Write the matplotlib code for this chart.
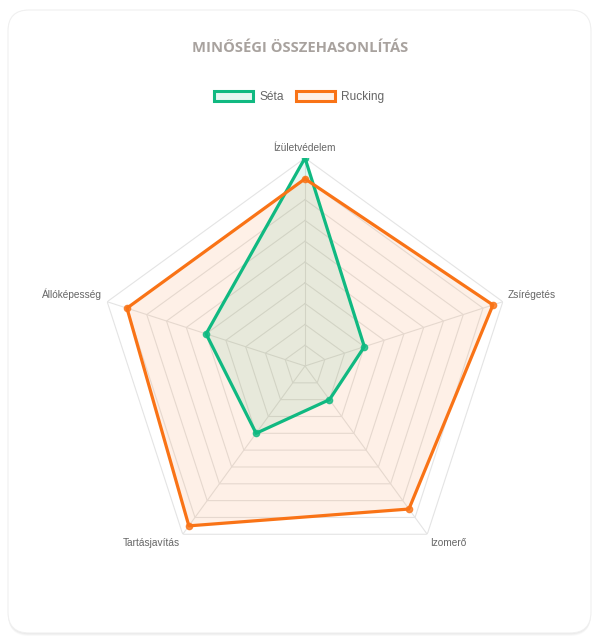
import numpy as np
import matplotlib
matplotlib.use('Agg')
import matplotlib.pyplot as plt
from matplotlib.patches import FancyBboxPatch, Patch

# data
categories = ['Ízületvédelem', 'Zsírégetés', 'Izomerő', 'Tartásjavítás', 'Állóképesség']
seta = [10, 3, 2, 4, 5]
rucking = [9, 9.5, 8.5, 9.5, 9]
series_names = ['Séta', 'Rucking']
max_val = 10

green = '#10b981'
orange = '#f97316'
grid_col = '#e4e4e4'
text_col = '#666666'

fig = plt.figure(figsize=(6.0, 6.43), dpi=100)
W, H = 600, 643

# card with soft shadow
for i, a in enumerate([0.025, 0.03, 0.035]):
    off = 3 - i
    fig.patches.append(FancyBboxPatch((8 / W, (10 - off) / H), 583 / W, (623 + off) / H,
                                      boxstyle='round,pad=0,rounding_size=0.035',
                                      transform=fig.transFigure, facecolor='black',
                                      alpha=a, edgecolor='none', mutation_aspect=W / H,
                                      zorder=-10))
fig.patches.append(FancyBboxPatch((8 / W, 10 / H), 583 / W, 623 / H,
                                  boxstyle='round,pad=0,rounding_size=0.035',
                                  transform=fig.transFigure, facecolor='white',
                                  edgecolor='#f0f0f0', linewidth=0.8, mutation_aspect=W / H,
                                  zorder=-9))

# radar axes: centre (305, 366), radius 208 px
cx, cy, R = 305, 366, 208
ax = fig.add_axes([(cx - R) / W, (H - cy - R) / H, 2 * R / W, 2 * R / H], projection='polar')
ax.set_theta_zero_location('N')
ax.set_theta_direction(-1)
ax.set_ylim(0, max_val)
ax.set_facecolor('none')
ax.grid(False)
ax.spines['polar'].set_visible(False)
ax.set_xticks([])
ax.set_yticks([])

n = len(categories)
ang = np.linspace(0, 2 * np.pi, n, endpoint=False)
ang_c = np.concatenate([ang, ang[:1]])

# polygon grid
for r in range(1, max_val + 1):
    ax.plot(ang_c, [r] * (n + 1), color=grid_col, lw=0.8, zorder=1)
for a in ang:
    ax.plot([a, a], [0, max_val], color=grid_col, lw=0.8, zorder=1)

# series
for vals, col in [(seta, green), (rucking, orange)]:
    v = vals + vals[:1]
    ax.fill(ang_c, v, color=col, alpha=0.1, zorder=2, lw=0)
    ax.plot(ang_c, v, color=col, lw=2.3, zorder=3)
    ax.plot(ang, vals, 'o', color=col, ms=4.5, alpha=0.8, zorder=4)

# point labels
for a, lab in zip(ang, categories):
    s, c = np.sin(a), np.cos(a)
    ha = 'center' if abs(s) < 0.1 else ('left' if s > 0 else 'right')
    va = 'top' if c < -0.5 else 'bottom'
    ax.text(a, max_val * 1.025, lab, ha=ha, va=va, fontsize=7.3,
            color=text_col, family='Liberation Sans', clip_on=False)

# title
fig.text(300 / W, 1 - 48 / H, 'MINŐSÉGI ÖSSZEHASONLÍTÁS', ha='center', va='center',
         fontsize=10.6, fontweight='bold', color='#a8a29e', family='Open Sans')

# legend
handles = [Patch(facecolor=matplotlib.colors.to_rgba(col, 0.1), edgecolor=col, lw=2.2)
           for col in (green, orange)]
leg = fig.legend(handles, series_names, loc='center', bbox_to_anchor=(299 / W, 1 - 97 / H),
                 ncol=2, frameon=False, handlelength=3.3, handleheight=1.0,
                 columnspacing=1.0, handletextpad=0.5,
                 prop={'family': 'Liberation Sans', 'size': 8.6})
for t in leg.get_texts():
    t.set_color(text_col)

fig.savefig('out.png', dpi=100, facecolor='white')
